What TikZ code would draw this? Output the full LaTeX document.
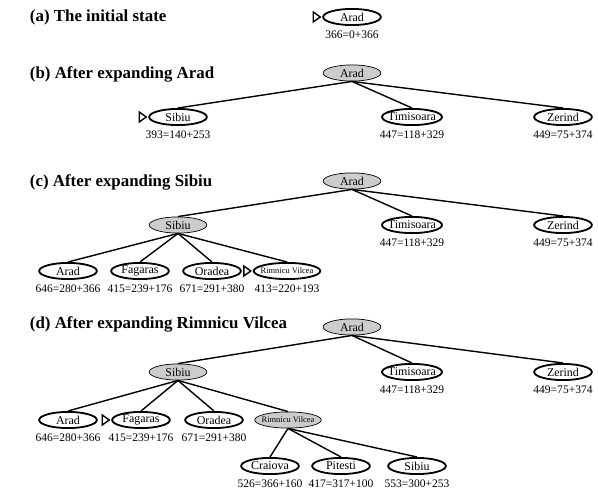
\documentclass[tikz,border=0pt]{standalone}
\usepackage{fontspec}
\setmainfont{Liberation Serif}
\usetikzlibrary{shapes.geometric,calc}

\tikzset{
  city/.style={ellipse,draw=black,inner xsep=-2pt,inner ysep=0pt,minimum width=41pt,minimum height=11.5pt,font=\fontsize{8.5}{9}\selectfont},
  frontier/.style={city,line width=1.3pt},
  expanded/.style={city,fill=black!20,line width=0.5pt},
  ttl/.style={anchor=west,font=\fontsize{12}{14}\selectfont\bfseries},
  every label/.style={font=\fontsize{8.2}{9}\selectfont,inner sep=0pt},
  label distance=3pt,
  link/.style={line width=1pt}
}
\newcommand{\nextmark}[1]{\draw[line width=1pt] ($(#1.west)+(-2,0)$) -- ++(-7,-5) -- ++(0,10) -- cycle;}

\begin{document}
\begin{tikzpicture}[x=0.025cm,y=-0.025cm]
\useasboundingbox (0,0) rectangle (598,491);

% (a)
\node[ttl] (ta) at (25,17) {(a) The initial state};
\node[frontier,label={below:{366=0+366}}] (a0) at (352,17) {Arad};
\nextmark{a0}

% (b)
\node[ttl] (tb) at (25,74) {(b) After expanding Arad};
\node[expanded] (b0) at (352,73) {Arad};
\node[frontier,label={below:{393=140+253}}] (b1) at (178,117) {Sibiu};
\node[frontier,label={below:{447=118+329}}] (b2) at (412,117) {Timisoara};
\node[frontier,label={below:{449=75+374}}] (b3) at (563,117) {Zerind};
\nextmark{b1}
\foreach \c in {b1,b2,b3} \draw[link] (b0.south) -- (\c.north);

% (c)
\node[ttl] (tc) at (25,182) {(c) After expanding Sibiu};
\node[expanded] (c0) at (352,181) {Arad};
\node[expanded] (c1) at (178,225) {Sibiu};
\node[frontier,label={below:{447=118+329}}] (c2) at (412,225) {Timisoara};
\node[frontier,label={below:{449=75+374}}] (c3) at (563,225) {Zerind};
\node[frontier,label={below:{646=280+366}}] (c11) at (68,271) {Arad};
\node[frontier,label={below:{415=239+176}}] (c12) at (140,271) {Fagaras};
\node[frontier,label={below:{671=291+380}}] (c13) at (212,271) {Oradea};
\node[frontier,label={below:{413=220+193}},font=\fontsize{6}{7}\selectfont] (c14) at (287,271) {Rimnicu Vilcea};
\nextmark{c14}
\foreach \c in {c1,c2,c3} \draw[link] (c0.south) -- (\c.north);
\foreach \c in {c11,c12,c13,c14} \draw[link] (c1.south) -- (\c.north);

% (d)
\node[ttl] (td) at (25,324) {(d) After expanding Rimnicu Vilcea};
\node[expanded] (d0) at (352,327) {Arad};
\node[expanded] (d1) at (178,372) {Sibiu};
\node[frontier,label={below:{447=118+329}}] (d2) at (412,372) {Timisoara};
\node[frontier,label={below:{449=75+374}}] (d3) at (563,372) {Zerind};
\node[frontier,label={below:{646=280+366}}] (d11) at (68,420) {Arad};
\node[frontier,label={below:{415=239+176}}] (d12) at (141,420) {Fagaras};
\node[frontier,label={below:{671=291+380}}] (d13) at (214,420) {Oradea};
\node[expanded,font=\fontsize{6}{7}\selectfont] (d14) at (288,420) {Rimnicu Vilcea};
\node[frontier,label={below:{526=366+160}}] (d141) at (270,466) {Craiova};
\node[frontier,label={below:{417=317+100}}] (d142) at (341,466) {Pitesti};
\node[frontier,label={below:{553=300+253}}] (d143) at (417,466) {Sibiu};
\nextmark{d12}
\foreach \c in {d1,d2,d3} \draw[link] (d0.south) -- (\c.north);
\foreach \c in {d11,d12,d13,d14} \draw[link] (d1.south) -- (\c.north);
\foreach \c in {d141,d142,d143} \draw[link] (d14.south) -- (\c.north);

\end{tikzpicture}
\end{document}
